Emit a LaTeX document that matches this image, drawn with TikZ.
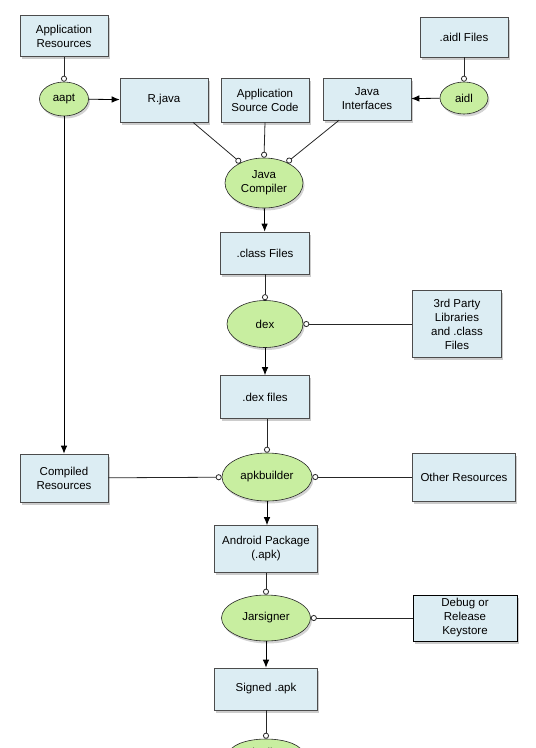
\documentclass[tikz,border=0pt]{standalone}
\usepackage{fontspec}
\setmainfont{Liberation Sans}
\usetikzlibrary{arrows.meta,shapes.geometric,shadows}
\definecolor{boxblue}{RGB}{220,237,243}
\definecolor{toolgreen}{RGB}{200,238,160}
\begin{document}
\begin{tikzpicture}[x=1pt,y=-1pt,
  lbl/.style={font=\fontsize{11.5}{14}\selectfont},
  box/.style={lbl, draw=black!70, line width=0.6pt, fill=boxblue, minimum width=88pt, minimum height=42pt, align=center, inner sep=2pt,
    drop shadow={shadow xshift=1.5pt, shadow yshift=-2.5pt, opacity=0.4}},
  tool/.style={lbl, ellipse, draw=black!85, line width=0.6pt, fill=toolgreen, align=center, inner sep=0pt,
    drop shadow={shadow xshift=1.5pt, shadow yshift=-2.5pt, opacity=0.35}},
  feed/.style={draw=black!85, line width=0.8pt, -{Circle[open,length=6pt,fill=white]}},
  flow/.style={draw=black, line width=0.8pt, -{Latex[length=8pt,width=6.5pt]}}]
\path[use as bounding box] (0,0) rectangle (536,748);
\clip (0,0) rectangle (536,748);
% boxes
\node[box, minimum height=41pt] (appres) at (64,36) {Application\\Resources};
\node[box, minimum height=44pt] (rjava) at (164,100) {R.java};
\node[box, minimum height=44pt] (appsrc) at (265,100) {Application\\Source Code};
\node[box] (jint) at (367,99) {Java\\Interfaces};
\node[box, minimum height=40pt] (aidlf) at (464,37) {.aidl Files};
\node[box, minimum width=89pt] (classf) at (265,253) {.class Files};
\node[box, minimum width=89pt, minimum height=67pt] (third) at (457,324) {3rd Party\\Libraries\\and .class\\Files};
\node[box, minimum width=89pt, minimum height=43pt] (dexf) at (265,397) {.dex files};
\node[box, minimum height=48pt] (comp) at (64,478) {Compiled\\Resources};
\node[box, minimum width=103pt, minimum height=48pt] (other) at (464,477) {Other Resources};
\node[box, minimum width=103pt, minimum height=47pt] (apk) at (266,549) {Android Package\\(.apk)};
\node[box, draw=black, line width=1pt, minimum width=104pt, minimum height=46pt] (debug) at (465,618) {Debug or\\Release\\Keystore};
\node[box, minimum width=103pt, minimum height=42pt] (signed) at (266,689) {Signed .apk};
% tools
\node[tool, minimum width=49pt, minimum height=34pt] (aapt) at (64,99) {aapt};
\node[tool, minimum width=48pt, minimum height=32pt] (aidl) at (464,98) {aidl};
\node[tool, minimum width=78pt, minimum height=50pt] (jc) at (264,183) {Java\\Compiler};
\node[tool, minimum width=76pt, minimum height=47pt] (dex) at (265,324) {dex};
\node[tool, minimum width=90pt, minimum height=48pt] (apkb) at (267,477) {apkbuilder};
\node[tool, minimum width=89pt, minimum height=46pt] (jar) at (266,618) {Jarsigner};
\node[tool, minimum width=74pt, minimum height=30pt] (zip) at (266,754) {zipalign};
% connectors
\draw[feed] (appres) -- (aapt);
\draw[feed] (aidlf) -- (aidl);
\draw[flow] (aapt) -- (rjava);
\draw[flow] (aidl) -- (jint);
\draw[flow] (aapt) -- (comp);
\draw[feed] ([xshift=29pt]rjava.south) -- (jc.139);
\draw[feed] (appsrc.south) -- (jc.north);
\draw[feed] ([xshift=-28pt]jint.south) -- (jc.42);
\draw[flow] (jc) -- (classf);
\draw[feed] (classf) -- (dex);
\draw[feed] (third) -- (dex);
\draw[flow] (dex) -- (dexf);
\draw[feed] (dexf.south -| apkb.north) -- (apkb.north);
\draw[feed] (comp) -- (apkb);
\draw[feed] (other) -- (apkb);
\draw[flow] (apkb.south) -- (apk.north -| apkb.south);
\draw[feed] (apk) -- (jar);
\draw[feed] (debug) -- (jar);
\draw[flow] (jar) -- (signed);
\draw[feed] (signed) -- (zip);
\end{tikzpicture}
\end{document}
